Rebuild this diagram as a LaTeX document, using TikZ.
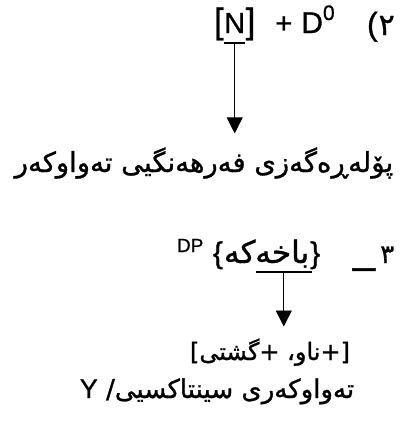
\documentclass[tikz,border=0pt]{standalone}
\usepackage{fontspec}
\setmainfont{Liberation Sans}[FakeBold=0.9]
\newfontfamily\kufont[Script=Arabic,FakeBold=1.1]{DejaVu Sans}
\TeXXeTstate=1
\usetikzlibrary{arrows.meta,positioning,calc}
\newcommand{\fs}[1]{\fontsize{#1}{#1}\selectfont}

\begin{document}
\begin{tikzpicture}[
  x=1pt,y=-1pt,
  txt/.style={inner sep=0pt,outer sep=0pt,anchor=base west},
  ku/.style={inner sep=0pt,outer sep=0pt,font=\kufont\fs{#1}},
  ku/.default=24,
  line/.style={-{Triangle[length=16pt,width=16pt]},line width=0.8pt},
  ul/.style={line width=1.6pt}
]
\useasboundingbox (0,0) rectangle (403,421);
% first line
\node[txt,font=\fs{35}] (lbr) at (214,33) {[};
\node[txt,font=\fs{29},base right=0.5pt of lbr] (nN) {N};
\node[txt,font=\fs{35},base right=0.5pt of nN] (rbr) {]};
\node[txt,font=\fs{29},base right=20pt of rbr] (plus) {+};
\node[txt,font=\fs{30},base right=9pt of plus] (dD) {D};
\node[txt,font=\fs{21}] (sup0) at ([yshift=13pt]dD.base east) {0};
\node[txt,font=\fs{32}] (lpar) at (367,35) {(};
\node[txt,font=\kufont\fs{30},base right=1pt of lpar] (two) {٢};
\draw[ul] ([yshift=-10pt]nN.base west) -- ([yshift=-10pt]nN.base east);
\coordinate (ulN) at ([yshift=-11pt]nN.base);
% category
\node[ku=27.5,anchor=base] (cat) at (204,172) {\beginR پۆلەڕەگەزی فەرهەنگیی تەواوکەر\endR};
\draw[line] (ulN) -- ([yshift=14pt]ulN |- cat.north);
% second example
\node[ku=31,anchor=base west] (bax) at (224,263) {\beginR باخەکە\endR};
\node[txt,font=\fs{30},base left=1pt of bax] (lbrace) {\{};
\node[txt,font=\fs{30},base right=1pt of bax] (rbrace) {\}};
\node[txt,font=\fs{19}] (dp) at ([yshift=11pt,xshift=-36pt]lbrace.base west) {DP};
\node[txt,font=\fs{40}] (dash) at (353,263) {\_};
\node[txt,font=\kufont\fs{26},base right=5pt of dash] (three) {٣};
\draw[ul] ($(bax.base west)!0.37!(bax.base east)+(0,9)$) -- ($(bax.base east)+(3,9)$);
\coordinate (ulB) at ($(bax.base west)!0.69!(bax.base east)+(1,10)$);
% features
\node[ku,anchor=base] (feat) at (270,360) {\beginR [+ناو، +گشتی]\endR};
\draw[line] (ulB) -- ([yshift=12pt]ulB |- feat.north);
\node[ku=26,anchor=base] (synt) at (217,398) {\beginR تەواوکەری سینتاکسیی/ \beginL{\rmfamily\fs{27}Y}\endL\endR};
\end{tikzpicture}
\end{document}
